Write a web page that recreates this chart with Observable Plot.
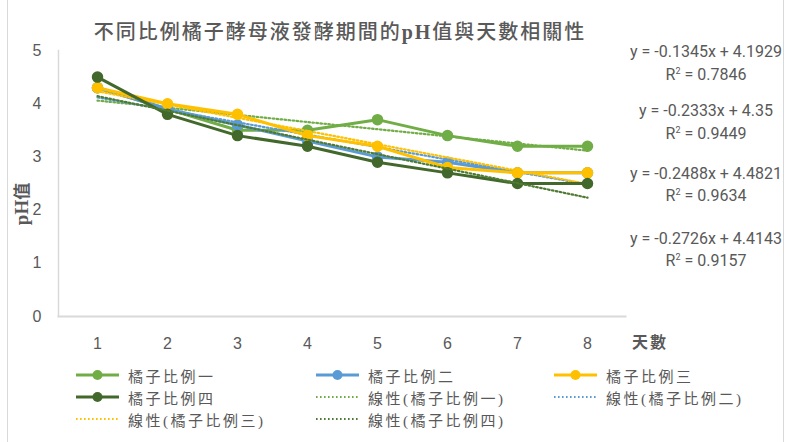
<!DOCTYPE html>
<html>
<head>
<meta charset="utf-8">
<script src="https://cdn.jsdelivr.net/npm/d3@7"></script>
<script src="https://cdn.jsdelivr.net/npm/@observablehq/plot@0.6"></script>
<style>
  body { margin: 0; background: #fff; }
  #chart {
    position: relative; width: 794px; height: 442px; overflow: hidden;
    font-family: "Noto Sans CJK TC", sans-serif; color: #595959; background: #fff;
  }
  #frame { position: absolute; left: 7px; top: -2px; width: 775px; height: 446px;
    border-left: 1px solid #d9d9d9; border-right: 1px solid #d9d9d9; }
  #title { position: absolute; left: 0; width: 680px; top: 16px; text-align: center;
    font-size: 20px; letter-spacing: 2px; font-weight: 500; white-space: nowrap; }
  #plot { position: absolute; left: 0; top: 0; }
  #ylab { position: absolute; left: 20px; top: 204px; transform: translate(-50%, -50%) rotate(-90deg);
    font-size: 17px; font-weight: 700; white-space: nowrap; }
  #ylab span, #xlab span { font-family: "Liberation Serif", serif; font-size: 19px; }
  #xlab { position: absolute; left: 632px; top: 329px; font-size: 16px; font-weight: 700; letter-spacing: 2px; }
  .eq { position: absolute; left: 620px; width: 172px; text-align: center;
    font-family: "Liberation Sans Narrow", "Roboto", sans-serif; font-size: 16px; color: #595959; white-space: nowrap; }
  #legend { position: absolute; left: 0; top: 364px; width: 794px; }
  .item { position: absolute; height: 22px; display: flex; align-items: center;
    font-size: 15px; letter-spacing: 2.5px; white-space: nowrap; }
  .item svg { margin-right: 8px; }
  .item span.paren { font-family: "Liberation Serif", serif; }
</style>
</head>
<body>
<div id="chart">
  <div id="frame"></div>
  <div id="title"></div>
  <div id="plot"></div>
  <div id="ylab"></div>
  <div id="xlab"></div>
  <div id="eqs"></div>
  <div id="legend"></div>
</div>
<script>
// 發酵天數
const days = [1, 2, 3, 4, 5, 6, 7, 8];

// 各比例 pH 值
const ratio1 = [4.3, 3.9, 3.5, 3.5, 3.7, 3.4, 3.2, 3.2];
const ratio2 = [4.3, 3.9, 3.6, 3.3, 3.0, 2.9, 2.7, 2.7];
const ratio3 = [4.3, 4.0, 3.8, 3.4, 3.2, 2.8, 2.7, 2.7];
const ratio4 = [4.5, 3.8, 3.4, 3.2, 2.9, 2.7, 2.5, 2.5];

const seriesNames = ["橘子比例一", "橘子比例二", "橘子比例三", "橘子比例四"];
const seriesColors = ["#70AD47", "#5B9BD5", "#FFC000", "#43682B"];
const trendColors = ["#70AD47", "#5B9BD5", "#FFC000", "#4E7A32"];

// 線性趨勢線係數
const slopes = [-0.1345, -0.2333, -0.2488, -0.2726];
const intercepts = [4.1929, 4.35, 4.4821, 4.4143];
const rSquared = [0.7846, 0.9449, 0.9634, 0.9157];

const yTicks = [0, 1, 2, 3, 4, 5];

const titleText = "不同比例橘子酵母液發酵期間的pH值與天數相關性";
const yLabel = "pH值";
const xLabel = "天數";

const allSeries = [ratio1, ratio2, ratio3, ratio4];

const rows = allSeries.flatMap((vals, s) =>
  vals.map((v, i) => ({ day: days[i], ph: v, series: seriesNames[s] })));
const trendRows = slopes.flatMap((m, s) =>
  days.map(d => ({ day: d, ph: m * d + intercepts[s], series: seriesNames[s] })));

const marks = [
  Plot.frame({ anchor: "left", stroke: "#d9d9d9", strokeWidth: 1.5 }),
  Plot.frame({ anchor: "bottom", stroke: "#d9d9d9", strokeWidth: 2 }),
  Plot.axisY({ ticks: yTicks, tickFormat: d3.format("d"), tickSize: 0, tickPadding: 17, label: null }),
  Plot.axisX({ tickSize: 0, tickPadding: 21, label: null })
];
seriesNames.forEach((name, s) => {
  const d = rows.filter(r => r.series === name);
  const t = trendRows.filter(r => r.series === name);
  marks.push(
    Plot.line(d, { x: "day", y: "ph", stroke: seriesColors[s], strokeWidth: 3 }),
    Plot.dot(d, { x: "day", y: "ph", r: 5, fill: seriesColors[s], stroke: seriesColors[s] }),
    Plot.line(t, { x: "day", y: "ph", stroke: trendColors[s], strokeWidth: 2.2, strokeDasharray: "1.6,2.4" })
  );
});

const chart = Plot.plot({
  width: 794,
  height: 355,
  marginLeft: 58,
  marginRight: 169,
  marginTop: 50,
  marginBottom: 39,
  style: {
    fontFamily: "'Liberation Sans Narrow', sans-serif",
    fontSize: "16px",
    color: "#595959",
    background: "transparent",
    overflow: "visible"
  },
  x: { type: "point", domain: days, padding: 0.5 },
  y: { domain: [0, 5] },
  marks
});
document.getElementById("plot").appendChild(chart);

document.getElementById("title").innerHTML =
  titleText.replace("pH", '<span style="font-family:\'Liberation Serif\',serif;font-weight:700">pH</span>');
document.getElementById("ylab").innerHTML = '<span>pH</span>' + yLabel.slice(2);
document.getElementById("xlab").textContent = xLabel;

// 趨勢線方程式
const eqTops = [42, 65, 101, 124, 164, 186, 229, 251];
const fmt = v => v.toString();
const eqBox = document.getElementById("eqs");
slopes.forEach((m, s) => {
  const a = document.createElement("div");
  a.className = "eq";
  a.style.top = eqTops[2 * s] + "px";
  a.textContent = `y = ${fmt(m)}x + ${fmt(intercepts[s])}`;
  const b = document.createElement("div");
  b.className = "eq";
  b.style.top = eqTops[2 * s + 1] + "px";
  b.innerHTML = `R<sup style="font-size:9px">2</sup> = ${rSquared[s].toFixed(4)}`;
  eqBox.append(a, b);
});

// 圖例
const legendItems = [
  ...seriesNames.map((n, s) => ({ label: n, color: seriesColors[s], trend: false })),
  ...seriesNames.map((n, s) => ({ label: `線性(${n})`, color: trendColors[s], trend: true }))
];
const colLeft = [75, 315, 553];
const legend = document.getElementById("legend");
legendItems.forEach((it, i) => {
  const div = document.createElement("div");
  div.className = "item";
  div.style.left = colLeft[i % 3] + "px";
  div.style.top = Math.floor(i / 3) * 22 + "px";
  const sw = it.trend
    ? `<svg width="45" height="12"><line x1="1" x2="44" y1="6" y2="6" stroke="${it.color}" stroke-width="2.2" stroke-dasharray="1.6,2.4"/></svg>`
    : `<svg width="45" height="12"><line x1="1" x2="44" y1="6" y2="6" stroke="${it.color}" stroke-width="3"/><circle cx="22.5" cy="6" r="5" fill="${it.color}"/></svg>`;
  const label = it.trend
    ? it.label.replace("(", '<span class="paren">(</span>').replace(")", '<span class="paren">)</span>')
    : it.label;
  div.innerHTML = sw + `<span>${label}</span>`;
  legend.appendChild(div);
});
</script>
</body>
</html>
